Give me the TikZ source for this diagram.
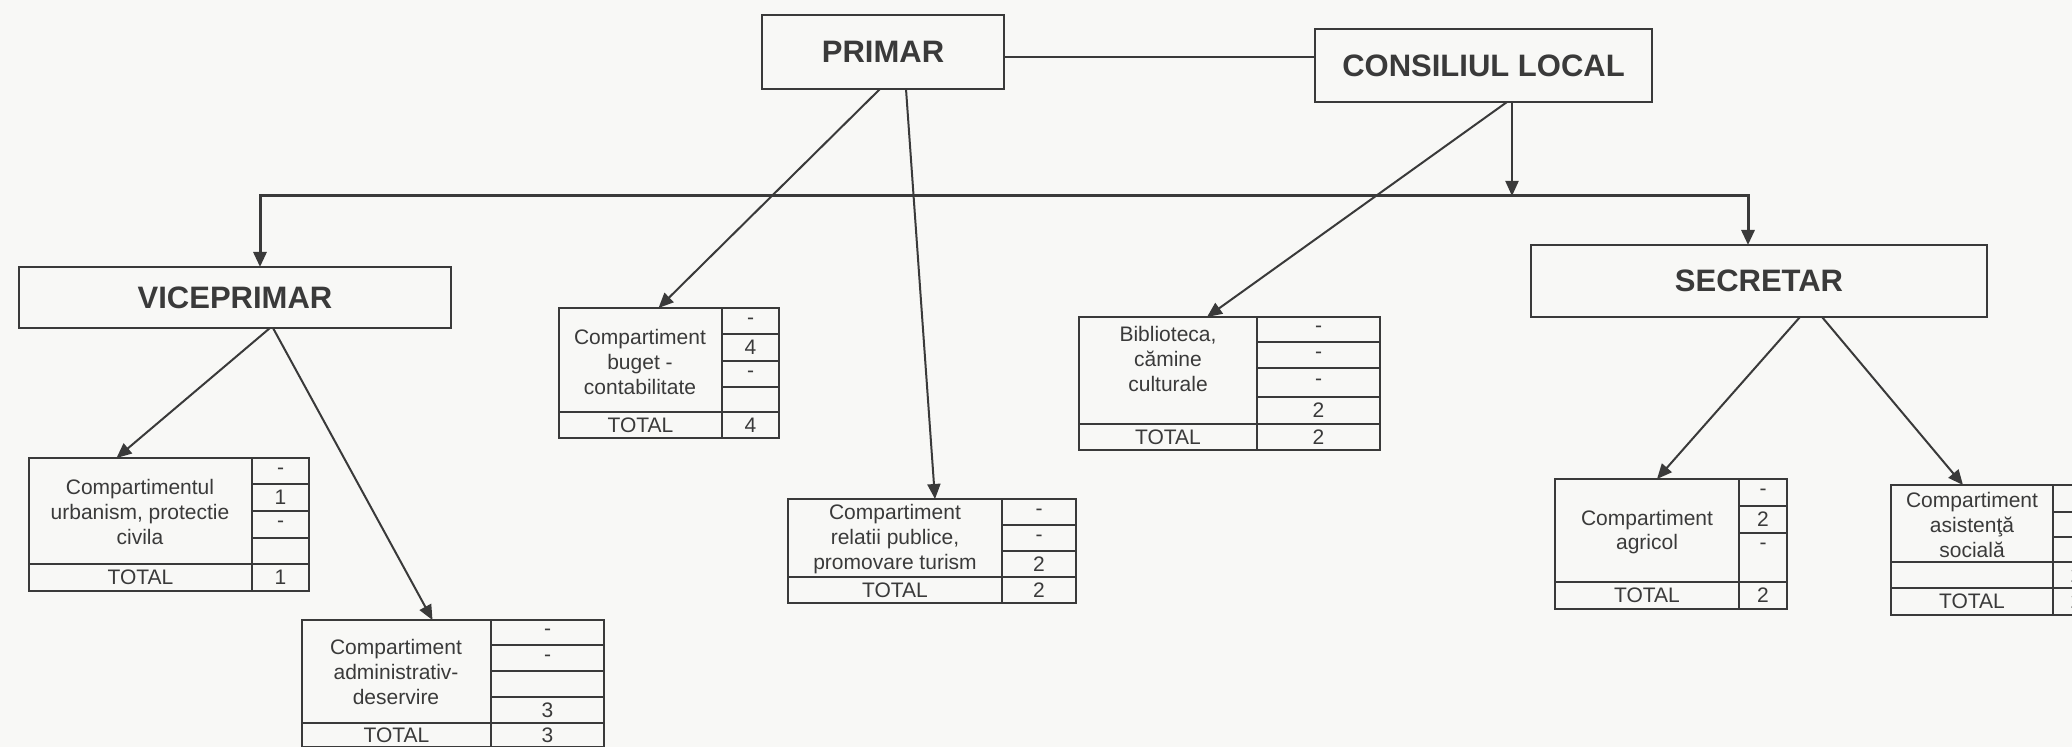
\documentclass[tikz,border=0pt]{standalone}
\usepackage{fontspec}
\setmainfont{Liberation Sans}
\usetikzlibrary{arrows.meta}
\definecolor{ink}{HTML}{3A3A3A}
\definecolor{bgc}{HTML}{F8F8F6}
\newcommand\mybox[7]{%
  \pgfmathsetmacro\bw{(#5-#3)*0.5}%
  \pgfmathsetmacro\bh{(#6-#4)*0.5}%
  \node[#1,minimum width=\bw pt,minimum height=\bh pt] (#2) at ({(#3+#5)/2},{(#4+#6)/2}) {#7};}
\begin{document}
\begin{tikzpicture}[x=0.5pt,y=-0.5pt,
  hdr/.style={draw=ink,line width=1.3pt,inner sep=0pt,outer sep=0pt,text=ink,
    font=\fontsize{15.5}{18}\selectfont\bfseries},
  cellbox/.style={draw=ink,line width=1pt,inner sep=0pt,outer sep=0pt,text=ink,
    font=\fontsize{10.5}{12.3}\selectfont},
  lbl/.style={inner sep=0pt,align=center,text=ink,font=\fontsize{10.5}{12.3}\selectfont},
  con/.style={draw=ink,line width=1pt},
  arr/.style={con,-{Triangle[length=7.5pt,width=6.5pt]}},
  bus/.style={line width=1.5pt}]
\fill[bgc] (0,0) rectangle (2072,747);
\useasboundingbox (0,0) rectangle (2072,747);

% header boxes
\mybox{hdr}{PRIMAR}{762}{15}{1004}{89}{PRIMAR}
\mybox{hdr}{CONS}{1315}{29}{1652}{102}{CONSILIUL LOCAL}
\mybox{hdr}{VICE}{19}{267}{451}{328}{VICEPRIMAR}
\mybox{hdr}{SECR}{1531}{245}{1987}{317}{SECRETAR}

% T1 buget
\mybox{cellbox}{T1a}{559}{308}{722}{412}{}
\node[lbl] (T1t) at (640,362) {Compartiment\\buget -\\contabilitate};
\mybox{cellbox}{T1n1}{722}{308}{779}{334}{-}
\mybox{cellbox}{T1n2}{722}{334}{779}{361}{4}
\mybox{cellbox}{T1n3}{722}{361}{779}{387}{-}
\mybox{cellbox}{T1n4}{722}{387}{779}{412}{}
\mybox{cellbox}{T1tl}{559}{412}{722}{438}{TOTAL}
\mybox{cellbox}{T1tn}{722}{412}{779}{438}{4}

% T2 biblioteca
\mybox{cellbox}{T2a}{1079}{317}{1257}{424}{}
\node[lbl] (T2t) at (1168,359) {Biblioteca,\\cămine\\culturale};
\mybox{cellbox}{T2n1}{1257}{317}{1380}{342}{-}
\mybox{cellbox}{T2n2}{1257}{342}{1380}{368}{-}
\mybox{cellbox}{T2n3}{1257}{368}{1380}{397}{-}
\mybox{cellbox}{T2n4}{1257}{397}{1380}{424}{2}
\mybox{cellbox}{T2tl}{1079}{424}{1257}{450}{TOTAL}
\mybox{cellbox}{T2tn}{1257}{424}{1380}{450}{2}

% T3 relatii publice
\mybox{cellbox}{T3a}{788}{499}{1002}{577}{}
\node[lbl] (T3t) at (895,539) {Compartiment\\relatii publice,\\promovare turism};
\mybox{cellbox}{T3n1}{1002}{499}{1076}{525}{-}
\mybox{cellbox}{T3n2}{1002}{525}{1076}{551}{-}
\mybox{cellbox}{T3n3}{1002}{551}{1076}{577}{2}
\mybox{cellbox}{T3tl}{788}{577}{1002}{603}{TOTAL}
\mybox{cellbox}{T3tn}{1002}{577}{1076}{603}{2}

% T4 urbanism
\mybox{cellbox}{T4a}{29}{458}{252}{564}{}
\node[lbl] (T4t) at (140,512) {Compartimentul\\urbanism, protectie\\civila};
\mybox{cellbox}{T4n1}{252}{458}{309}{484}{-}
\mybox{cellbox}{T4n2}{252}{484}{309}{511}{1}
\mybox{cellbox}{T4n3}{252}{511}{309}{538}{-}
\mybox{cellbox}{T4n4}{252}{538}{309}{564}{}
\mybox{cellbox}{T4tl}{29}{564}{252}{591}{TOTAL}
\mybox{cellbox}{T4tn}{252}{564}{309}{591}{1}

% T5 administrativ
\mybox{cellbox}{T5a}{302}{620}{491}{723}{}
\node[lbl] (T5t) at (396,672) {Compartiment\\administrativ-\\deservire};
\mybox{cellbox}{T5n1}{491}{620}{604}{645}{-}
\mybox{cellbox}{T5n2}{491}{645}{604}{671}{-}
\mybox{cellbox}{T5n3}{491}{671}{604}{697}{}
\mybox{cellbox}{T5n4}{491}{697}{604}{723}{3}
\mybox{cellbox}{T5tl}{302}{723}{491}{747}{TOTAL}
\mybox{cellbox}{T5tn}{491}{723}{604}{747}{3}

% T6 agricol
\mybox{cellbox}{T6a}{1555}{479}{1739}{582}{}
\node[lbl] (T6t) at (1647,532) {Compartiment\\agricol};
\mybox{cellbox}{T6n1}{1739}{479}{1787}{506}{-}
\mybox{cellbox}{T6n2}{1739}{506}{1787}{533}{2}
\mybox{cellbox}{T6n3}{1739}{533}{1787}{582}{}
\node[lbl] (T6n3t) at (1763,546) {-};
\mybox{cellbox}{T6tl}{1555}{582}{1739}{609}{TOTAL}
\mybox{cellbox}{T6tn}{1739}{582}{1787}{609}{2}

% T7 asistenta sociala
\mybox{cellbox}{T7a}{1891}{485}{2053}{562}{}
\node[lbl] (T7t) at (1972,525) {Compartiment\\asistenţă\\socială};
\mybox{cellbox}{T7b}{1891}{562}{2053}{588}{}
\mybox{cellbox}{T7tl}{1891}{588}{2053}{615}{TOTAL}
\mybox{cellbox}{T7n1}{2053}{485}{2100}{512}{-}
\mybox{cellbox}{T7n2}{2053}{512}{2100}{537}{-}
\mybox{cellbox}{T7n3}{2053}{537}{2100}{562}{-}
\mybox{cellbox}{T7n4}{2053}{562}{2100}{588}{2}
\mybox{cellbox}{T7tn}{2053}{588}{2100}{615}{2}

% connectors
\coordinate (pc) at (1100,57);
\draw[con] (PRIMAR.east |- pc) -- (CONS.west |- pc);
\coordinate (busC) at (1512,196);
\coordinate (busL) at (260,196);
\coordinate (busR) at (1748,196);
\draw[arr] (CONS.south -| busC) -- (busC);
\draw[arr,bus] (busC) -- (busL) -- (VICE.north -| busL);
\draw[arr,bus] (busC) -- (busR) -- (SECR.north -| busR);

\draw[arr] ([xshift=-1.5pt]PRIMAR.south) -- ([xshift=9pt]T1a.north);
\draw[arr] ([xshift=11.5pt]PRIMAR.south) -- ([xshift=20pt]T3a.north);
\draw[arr] ([xshift=11.75pt]CONS.south) -- ([xshift=19.5pt]T2a.north);
\draw[arr] ([xshift=17.5pt]VICE.south) -- ([xshift=-12pt]T4a.north);
\draw[arr] ([xshift=19pt]VICE.south) -- ([xshift=18pt]T5a.north);
\draw[arr] ([xshift=20.5pt]SECR.south) -- ([xshift=5pt]T6a.north);
\draw[arr] ([xshift=31.5pt]SECR.south) -- ([xshift=-4.5pt]T7a.north);
\end{tikzpicture}
\end{document}
